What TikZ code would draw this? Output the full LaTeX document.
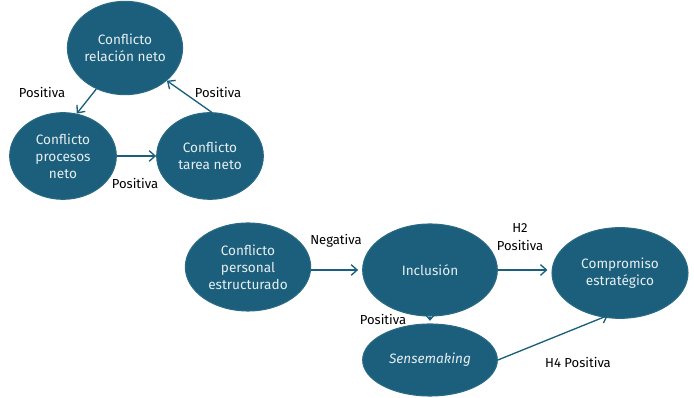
\documentclass[tikz,border=0pt]{standalone}
\usepackage{fontspec}
\setmainfont{Fira Sans}
\usetikzlibrary{arrows.meta,shapes.geometric}
\definecolor{teal}{HTML}{1B5F7C}
\definecolor{tealedge}{HTML}{2A6A85}
\definecolor{txt}{HTML}{E6EEF2}
\tikzset{
  bub/.style={ellipse, fill=teal, draw=tealedge, line width=0.8pt, text=txt, inner sep=0pt,
     font=\fontsize{10.2}{12.8}\selectfont, align=center},
  conn/.style={draw=teal, line width=1pt, -{Straight Barb[length=4.5pt,width=8pt,line width=1pt]}},
  lab/.style={font=\fontsize{9.8}{13}\selectfont, text=black, align=center, inner sep=0pt}
}
\begin{document}
\begin{tikzpicture}[x=0.75pt,y=-0.75pt]
\useasboundingbox (0,0) rectangle (694,398);
\node[bub, minimum width=78pt, minimum height=70pt] (rel) at (125,48) {Conflicto\\relación neto};
\node[bub, minimum width=80pt, minimum height=65pt] (proc) at (63,156) {Conflicto\\procesos\\neto};
\node[bub, minimum width=80pt, minimum height=65pt] (tar) at (210,156) {Conflicto\\tarea neto};
\node[bub, minimum width=94pt, minimum height=66pt] (pers) at (248,267) {Conflicto\\personal\\estructurado};
\node[bub, minimum width=101pt, minimum height=69pt] (inc) at (430,270) {Inclusión};
\node[bub, minimum width=102pt, minimum height=68pt] (comp) at (620,273) {Compromiso\\estratégico};
\node[bub, minimum width=101pt, minimum height=54pt] (sen) at (430,360) {\itshape Sensemaking};

\draw[conn] (rel.-125) -- (proc.72);
\draw[conn] (tar.88) -- (rel.-38);
\draw[conn] (proc.east) -- (tar.west);
\draw[conn] (pers.east |- inc.west) -- ([xshift=-3pt]inc.west);
\draw[conn] (inc.east) -- ([xshift=-3pt]inc.east -| comp.west);
\draw[conn] (inc.south) -- ([yshift=2pt]sen.north);
\draw[conn] (sen.east) -- ([yshift=2pt]comp.-105);

\node[lab] (l1) at (42,92) {Positiva};
\node[lab] (l2) at (218,92) {Positiva};
\node[lab] (l3) at (135,183) {Positiva};
\node[lab] (l4) at (336,241) {Negativa};
\node[lab] (l5) at (520,237) {H2\\Positiva};
\node[lab] (l6) at (383,319) {Positiva};
\node[lab] (l7) at (578,362) {H4 Positiva};
\end{tikzpicture}
\end{document}
